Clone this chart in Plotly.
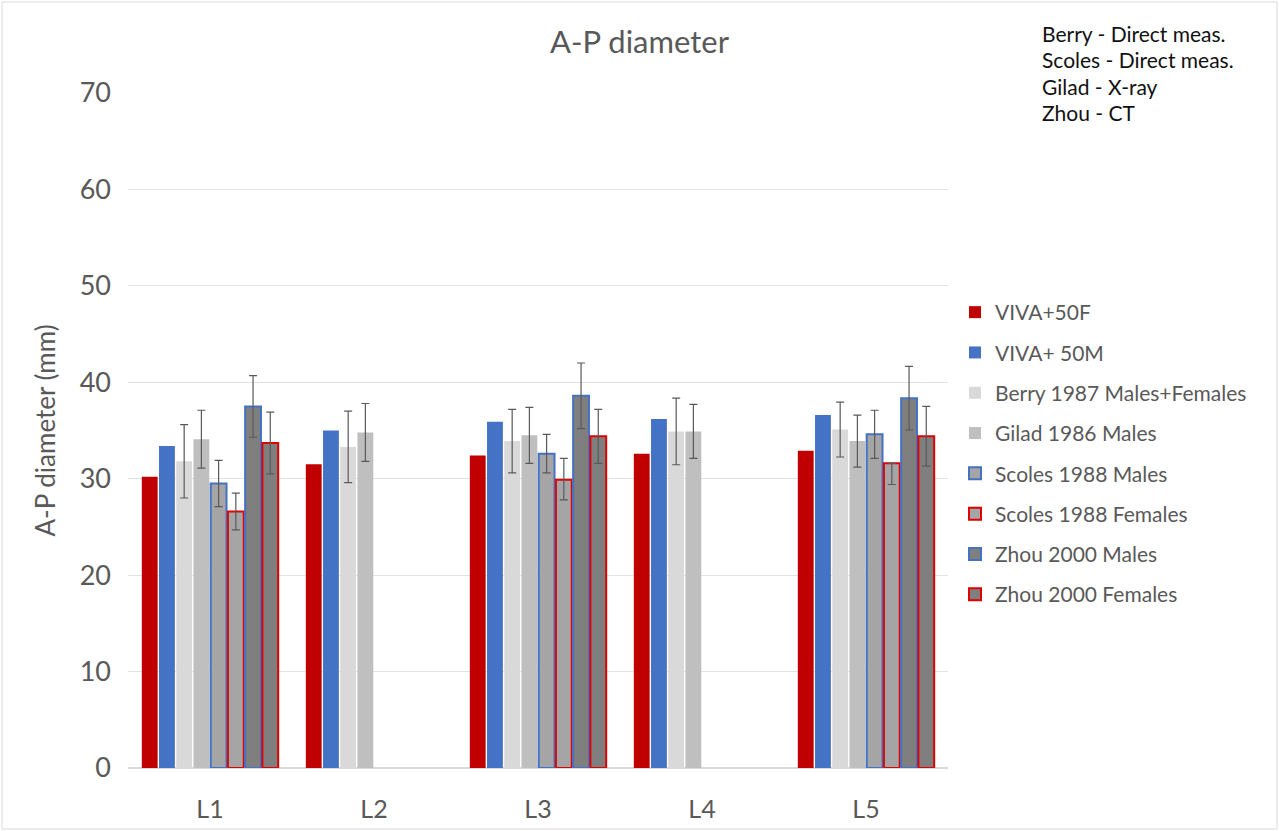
import plotly.graph_objects as go

levels = ["L1", "L2", "L3", "L4", "L5"]

viva_f = [30.2, 31.5, 32.4, 32.6, 32.9]
viva_m = [33.4, 35.0, 35.9, 36.2, 36.6]

berry = [31.8, 33.3, 33.9, 34.9, 35.1]
berry_sd = [3.8, 3.7, 3.3, 3.45, 2.85]

gilad = [34.1, 34.8, 34.5, 34.9, 33.9]
gilad_sd = [3.0, 3.0, 2.9, 2.8, 2.7]

scoles_m = [29.5, None, 32.6, None, 34.6]
scoles_m_sd = [2.4, None, 2.0, None, 2.5]

scoles_f = [26.6, None, 29.9, None, 31.6]
scoles_f_plus = [1.9, None, 2.2, None, 0.0]
scoles_f_minus = [1.9, None, 2.1, None, 2.2]

zhou_m = [37.5, None, 38.6, None, 38.35]
zhou_m_sd = [3.2, None, 3.4, None, 3.3]

zhou_f = [33.7, None, 34.4, None, 34.4]
zhou_f_sd = [3.2, None, 2.8, None, 3.1]

notes = ["Berry - Direct meas.", "Scoles - Direct meas.", "Gilad - X-ray", "Zhou - CT"]

FONT = "Lato, Open Sans, sans-serif"
RED = "#C00000"
BLUE = "#4472C4"
EDGE_RED = "#E00000"
ERR = "#595959"

W, H = 1279, 831
ML, MR, MT, MB = 128, 331, 93, 63
PW, PH = W - ML - MR, H - MT - MB


def err(plus, minus=None):
    d = dict(type="data", array=plus, color=ERR, thickness=1.2, width=4)
    if minus is not None:
        d.update(symmetric=False, arrayminus=minus)
    return d


series = [
    ("VIVA+50F", viva_f, RED, RED, None),
    ("VIVA+ 50M", viva_m, BLUE, BLUE, None),
    ("Berry 1987 Males+Females", berry, "#D9D9D9", "#D9D9D9", err(berry_sd)),
    ("Gilad 1986 Males", gilad, "#BFBFBF", "#BFBFBF", err(gilad_sd)),
    ("Scoles 1988 Males", scoles_m, "#A5A5A5", BLUE, err(scoles_m_sd)),
    ("Scoles 1988 Females", scoles_f, "#A5A5A5", EDGE_RED, err(scoles_f_plus, scoles_f_minus)),
    ("Zhou 2000 Males", zhou_m, "#7F7F7F", BLUE, err(zhou_m_sd)),
    ("Zhou 2000 Females", zhou_f, "#7F7F7F", EDGE_RED, err(zhou_f_sd)),
]

fig = go.Figure()
for name, vals, fill, edge, ebar in series:
    fig.add_trace(go.Bar(
        name=name, x=levels, y=vals,
        marker=dict(color=fill, line=dict(color=edge, width=2 if edge != fill else 0)),
        error_y=ebar if ebar else dict(visible=False),
        legendgroup=name,
    ))

fig.update_layout(
    width=W, height=H,
    paper_bgcolor="white", plot_bgcolor="white",
    margin=dict(l=ML, r=MR, t=MT, b=MB, autoexpand=False),
    barmode="group", bargap=0.16, bargroupgap=0.08,
    font=dict(family=FONT, color="#595959"),
    title=dict(text="A-P diameter", x=0.5, xref="container", y=1 - 42 / H,
               yref="container", yanchor="middle", xanchor="center",
               font=dict(size=31, color="#595959", family=FONT)),
    xaxis=dict(showgrid=False, showline=False, ticks="", automargin=False,
               tickfont=dict(size=25, color="#595959"), ticklabelstandoff=24),
    yaxis=dict(range=[0, 70], dtick=10, showgrid=True, gridcolor="#E3E3E3",
               gridwidth=1, zeroline=True, zerolinecolor="#D9D9D9", automargin=False,
               tickfont=dict(size=27, color="#595959"), ticklabelstandoff=16,
               title=dict(text="A-P diameter (mm)", font=dict(size=26, color="#595959"),
                          standoff=16)),
    legend=dict(x=955 / W, xref="container", xanchor="left",
                y=1 - 292 / H, yref="container", yanchor="top",
                font=dict(size=21, color="#595959", family=FONT),
                tracegroupgap=10, itemwidth=30, traceorder="grouped",
                bgcolor="rgba(0,0,0,0)", borderwidth=0),
    showlegend=True,
)

# method notes, one line each
for i, line in enumerate(notes):
    fig.add_annotation(
        text=line, xref="paper", yref="paper",
        x=(1040 - ML) / PW, xanchor="left",
        y=(H - MB - (33 + 26.5 * i)) / PH, yanchor="middle",
        align="left", showarrow=False,
        font=dict(size=21, color="#111111", family=FONT),
    )

# light frame around the chart area
fig.add_shape(type="rect", xref="paper", yref="paper",
              x0=(-ML + 2) / PW, x1=(W - ML - 2) / PW,
              y0=(-MB + 2) / PH, y1=(H - MB - 2) / PH,
              line=dict(color="#D9D9D9", width=1), layer="below")

fig.write_html("out.html")
